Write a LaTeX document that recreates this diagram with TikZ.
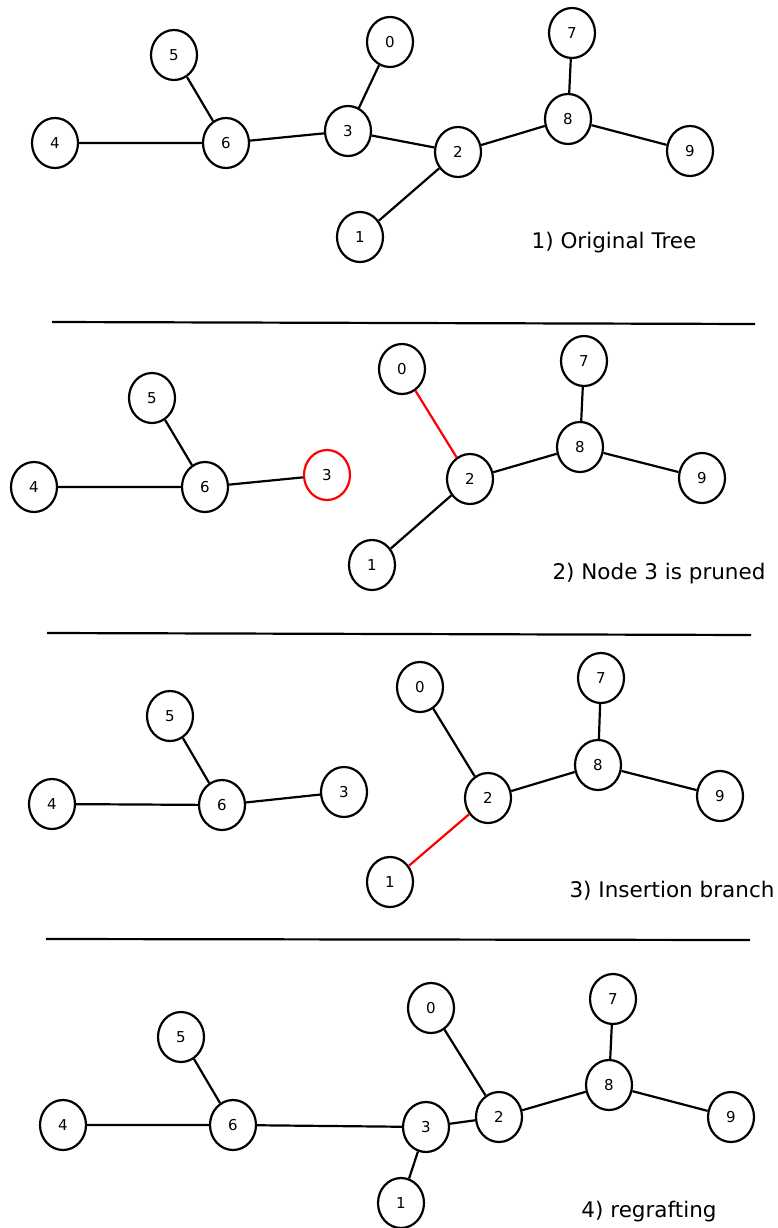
\documentclass[tikz,border=0pt]{standalone}
\usepackage{fontspec}
\setmainfont{DejaVu Sans}
\usetikzlibrary{shapes.geometric}
\begin{document}
\begin{tikzpicture}[x=1pt,y=-1pt,
  tn/.style={ellipse,draw,line width=2.2pt,minimum width=46pt,minimum height=50pt,inner sep=0pt,font=\fontsize{15}{16}\selectfont},
  ed/.style={line width=2.2pt},
  captxt/.style={font=\fontsize{21.5}{24}\selectfont},
  sepline/.style={line width=2.2pt}]
\useasboundingbox[fill=white] (0,0) rectangle (777,1228);
% Panel 1
\node[tn] (a5) at (174,55) {5};
\node[tn] (a0) at (390,42) {0};
\node[tn] (a7) at (572,33) {7};
\node[tn] (a4) at (55,143) {4};
\node[tn] (a6) at (226,143) {6};
\node[tn] (a3) at (348,131) {3};
\node[tn] (a2) at (458,152) {2};
\node[tn] (a8) at (568,119) {8};
\node[tn] (a9) at (690,151) {9};
\node[tn] (a1) at (360,237) {1};
\node[captxt] (c1) at (614,243) {1) Original Tree};
\draw[ed] (a4)--(a6) (a5)--(a6) (a6)--(a3) (a3)--(a0) (a3)--(a2) (a2)--(a1) (a2)--(a8) (a8)--(a7) (a8)--(a9);
\coordinate (l1a) at (52,322); \coordinate (l1b) at (755,324);
\draw[sepline] (l1a)--(l1b);
% Panel 2
\node[tn] (b5) at (152,398) {5};
\node[tn] (b4) at (34,487) {4};
\node[tn] (b6) at (205,487) {6};
\node[tn,draw=red] (b3) at (327,475) {3};
\node[tn] (b0) at (402,369) {0};
\node[tn] (b7) at (584,361) {7};
\node[tn] (b2) at (470,479) {2};
\node[tn] (b8) at (580,447) {8};
\node[tn] (b9) at (702,478) {9};
\node[tn] (b1) at (372,565) {1};
\node[captxt] (c2) at (659,574) {2) Node 3 is pruned};
\draw[ed] (b4)--(b6) (b5)--(b6) (b6)--(b3) (b1)--(b2) (b2)--(b8) (b8)--(b7) (b8)--(b9);
\draw[ed,red] (b0)--(b2);
\coordinate (l2a) at (47,633); \coordinate (l2b) at (751,635);
\draw[sepline] (l2a)--(l2b);
% Panel 3
\node[tn] (d5) at (170,716) {5};
\node[tn] (d4) at (52,804) {4};
\node[tn] (d6) at (222,805) {6};
\node[tn] (d3) at (344,792) {3};
\node[tn] (d0) at (420,687) {0};
\node[tn] (d7) at (601,678) {7};
\node[tn] (d2) at (488,798) {2};
\node[tn] (d8) at (598,765) {8};
\node[tn] (d9) at (720,796) {9};
\node[tn] (d1) at (390,882) {1};
\node[captxt] (c3) at (672,891) {3) Insertion branch};
\draw[ed] (d4)--(d6) (d5)--(d6) (d6)--(d3) (d0)--(d2) (d2)--(d8) (d8)--(d7) (d8)--(d9);
\draw[ed,red] (d1)--(d2);
\coordinate (l3a) at (46,939); \coordinate (l3b) at (750,940);
\draw[sepline] (l3a)--(l3b);
% Panel 4
\node[tn] (e5) at (181,1037) {5};
\node[tn] (e4) at (63,1125) {4};
\node[tn] (e6) at (233,1125) {6};
\node[tn] (e3) at (426,1127) {3};
\node[tn] (e0) at (431,1008) {0};
\node[tn] (e7) at (613,999) {7};
\node[tn] (e2) at (499,1117) {2};
\node[tn] (e8) at (609,1085) {8};
\node[tn] (e9) at (731,1117) {9};
\node[tn] (e1) at (401,1203) {1};
\node[captxt] (c4) at (649,1212) {4) regrafting};
\draw[ed] (e4)--(e6) (e5)--(e6) (e6)--(e3) (e3)--(e1) (e3)--(e2) (e0)--(e2) (e2)--(e8) (e8)--(e7) (e8)--(e9);
\end{tikzpicture}
\end{document}
